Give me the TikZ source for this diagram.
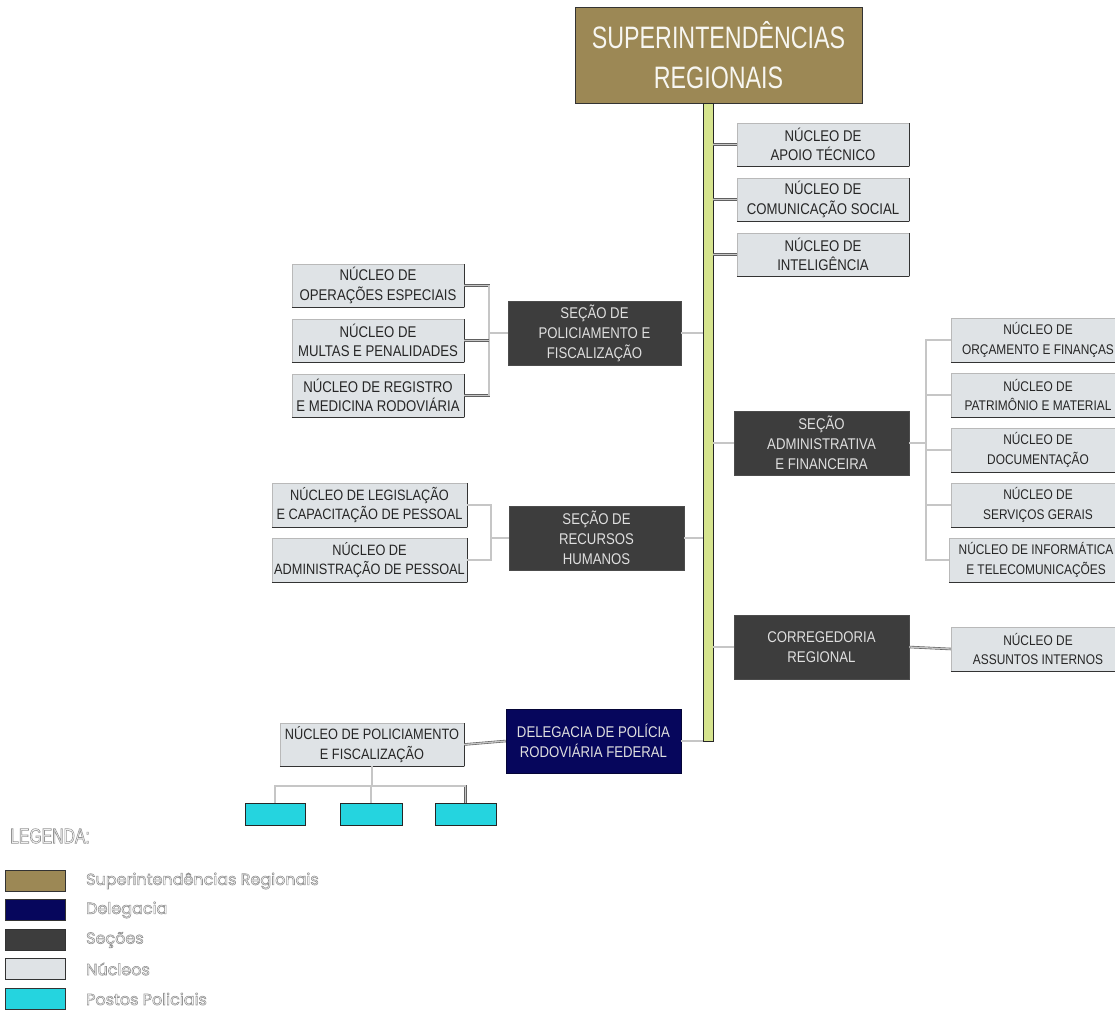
\documentclass[tikz,border=0pt]{standalone}
\usepackage{fontspec}
\setmainfont[FakeStretch=0.85]{Liberation Sans}
\newfontfamily\supfont[FakeStretch=0.75]{Liberation Sans}
\newfontfamily\legfont{Poppins}
\definecolor{supcol}{HTML}{9C8855}
\definecolor{navycol}{HTML}{06065C}
\definecolor{seccol}{HTML}{3D3D3D}
\definecolor{nuccol}{HTML}{DFE3E6}
\definecolor{postcol}{HTML}{25D4DF}
\definecolor{barcol}{HTML}{D6E48E}
\newcommand\outlinetext[1]{\special{pdf:literal direct 1 Tr 0.6 w}#1\special{pdf:literal direct 0 Tr}}
\tikzset{
  box/.style={rectangle, inner sep=0pt, align=center, font=\fontsize{15.5}{19.5}\selectfont},
  shadowline/.style={draw=black!80, line width=1.1pt},
  nuc/.style={box, draw=gray!55, fill=nuccol, text=black!85, minimum width=172, minimum height=43,
    append after command={\pgfextra{\let\mainnode=\tikzlastnode}
      (\mainnode.south west) edge[shadowline] (\mainnode.south east)
      (\mainnode.south east) edge[shadowline] (\mainnode.north east)}},
  rnuc/.style={nuc, minimum width=174, minimum height=44, font=\fontsize{14}{19.5}\selectfont},
  sec/.style={box, draw=gray!60!black, fill=seccol, text=gray!25, minimum width=175, minimum height=64, font=\fontsize{15.5}{20}\selectfont},
  post/.style={rectangle, draw=gray!30!black, fill=postcol, minimum height=22, inner sep=0pt},
  conn/.style={draw=gray!75!black, line width=0.6pt, double=gray!45, double distance=1.3pt},
  swatch/.style={rectangle, draw=gray!40!black, minimum width=60, minimum height=21, inner sep=0pt},
  leg/.style={anchor=west, inner sep=0pt, text=gray!85, font=\legfont\fontsize{16}{18}\selectfont},
}
\begin{document}
\begin{tikzpicture}[x=1pt,y=-1pt]
\clip (0,0) rectangle (1115,1011);
% top
\node[box, draw=gray!40!black, fill=supcol, text=white!92!supcol, minimum width=287, minimum height=96, font=\supfont\fontsize{31}{40}\selectfont] (sup) at (718.5,55) {SUPERINTENDÊNCIAS\\REGIONAIS};
\node[rectangle, draw=gray!30!black, fill=barcol, minimum width=10, minimum height=638, inner sep=0pt] (bar) at (708,422) {};
% right nucleos
\node[nuc] (n1) at (823,144.5) {NÚCLEO DE\\APOIO TÉCNICO};
\node[nuc] (n2) at (823,199.5) {NÚCLEO DE\\COMUNICAÇÃO SOCIAL};
\node[nuc] (n3) at (823,254.5) {NÚCLEO DE\\INTELIGÊNCIA};
% policiamento
\node[sec, minimum width=173] (s1) at (594.5,333) {SEÇÃO DE\\POLICIAMENTO E\\FISCALIZAÇÃO};
\node[nuc] (l1) at (378,285.5) {NÚCLEO DE\\OPERAÇÕES ESPECIAIS};
\node[nuc] (l2) at (378,340.5) {NÚCLEO DE\\MULTAS E PENALIDADES};
\node[nuc] (l3) at (378,395.5) {NÚCLEO DE REGISTRO\\E MEDICINA RODOVIÁRIA};
% administrativa
\node[sec] (s2) at (821.5,443) {SEÇÃO\\ADMINISTRATIVA\\E FINANCEIRA};
\node[rnuc] (r1) at (1038,340) {NÚCLEO DE\\ORÇAMENTO E FINANÇAS};
\node[rnuc] (r2) at (1038,395) {NÚCLEO DE\\PATRIMÔNIO E MATERIAL};
\node[rnuc] (r3) at (1038,450) {NÚCLEO DE\\DOCUMENTAÇÃO};
\node[rnuc] (r4) at (1038,505) {NÚCLEO DE\\SERVIÇOS GERAIS};
\node[rnuc] (r5) at (1036,560) {NÚCLEO DE INFORMÁTICA\\E TELECOMUNICAÇÕES};
% recursos humanos
\node[sec] (s3) at (596.5,538) {SEÇÃO DE\\RECURSOS\\HUMANOS};
\node[nuc, minimum width=195, minimum height=44, font=\fontsize{15}{19.5}\selectfont] (h1) at (369.5,505) {NÚCLEO DE LEGISLAÇÃO\\E CAPACITAÇÃO DE PESSOAL};
\node[nuc, minimum width=195, minimum height=44, font=\fontsize{15}{19.5}\selectfont] (h2) at (369.5,560) {NÚCLEO DE\\ADMINISTRAÇÃO DE PESSOAL};
% corregedoria
\node[sec] (s4) at (821.5,647) {CORREGEDORIA\\REGIONAL};
\node[rnuc] (c1) at (1038,649) {NÚCLEO DE\\ASSUNTOS INTERNOS};
% delegacia
\node[sec, fill=navycol, draw=navycol!60!black, font=\fontsize{15.5}{19.5}\selectfont] (d) at (593.5,741) {DELEGACIA DE POLÍCIA\\RODOVIÁRIA FEDERAL};
\node[nuc, minimum width=184, font=\fontsize{15}{19.5}\selectfont] (p) at (372,744.5) {NÚCLEO DE POLICIAMENTO\\E FISCALIZAÇÃO};
\node[post, minimum width=60] (t1) at (275,814) {};
\node[post, minimum width=62] (t2) at (371,814) {};
\node[post, minimum width=61] (t3) at (465.5,814) {};
% helper coordinates
\coordinate (bl) at (489,0);
\coordinate (bh) at (491,0);
\coordinate (br) at (926,0);
\coordinate (ph) at (0,786);
% connectors from bar
\draw[conn] (bar.east |- n1.west) -- (n1.west);
\draw[conn] (bar.east |- n2.west) -- (n2.west);
\draw[conn] (bar.east |- n3.west) -- (n3.west);
\draw[conn] (s1.east) -- (bar.west |- s1.east);
\draw[conn] (bar.east |- s2.west) -- (s2.west);
\draw[conn] (s3.east) -- (bar.west |- s3.east);
\draw[conn] (bar.east |- s4.west) -- (s4.west);
\draw[conn] (d.east) -- (bar.west |- d.east);
% policiamento bracket
\draw[conn] (l1.east) -| (bl |- l3.east) -- (l3.east);
\draw[conn] (l2.east) -- (l2.east -| bl);
\draw[conn] (bl |- s1.west) -- (s1.west);
% administrativa bracket
\draw[conn] (r1.west) -| (br |- r5.west) -- (r5.west);
\draw[conn] (r2.west) -- (r2.west -| br);
\draw[conn] (r3.west) -- (r3.west -| br);
\draw[conn] (r4.west) -- (r4.west -| br);
\draw[conn] (s2.east) -- (br |- s2.east);
% rh bracket
\draw[conn] (h1.east) -| (bh |- h2.east) -- (h2.east);
\draw[conn] (bh |- s3.west) -- (s3.west);
% corregedoria
\draw[conn] (s4.east) -- (c1.west);
% delegacia
\draw[conn] (d.west) -- (p.east);
\draw[conn] (p.south) -- (p.south |- ph);
\draw[conn] (t1.north) -- (t1.north |- ph) -- (t3.north |- ph) -- (t3.north);
\draw[conn] (t2.north) -- (t2.north |- ph);
% legend
\node[anchor=west, inner sep=0pt, text=gray!85, font=\supfont\fontsize{21}{23}\selectfont] (lt) at (10,836) {\outlinetext{LEGENDA:}};
\node[swatch, fill=supcol] (k1) at (35,881) {};
\node[swatch, fill=navycol] (k2) at (35,910) {};
\node[swatch, fill=seccol] (k3) at (35,940) {};
\node[swatch, fill=nuccol] (k4) at (35,969) {};
\node[swatch, fill=postcol] (k5) at (35,999) {};
\node[leg] (e1) at (86,881) {\outlinetext{Superintendências Regionais}};
\node[leg] (e2) at (86,910) {\outlinetext{Delegacia}};
\node[leg] (e3) at (86,940) {\outlinetext{Seções}};
\node[leg] (e4) at (86,969) {\outlinetext{Núcleos}};
\node[leg] (e5) at (86,999) {\outlinetext{Postos Policiais}};
\end{tikzpicture}
\end{document}
